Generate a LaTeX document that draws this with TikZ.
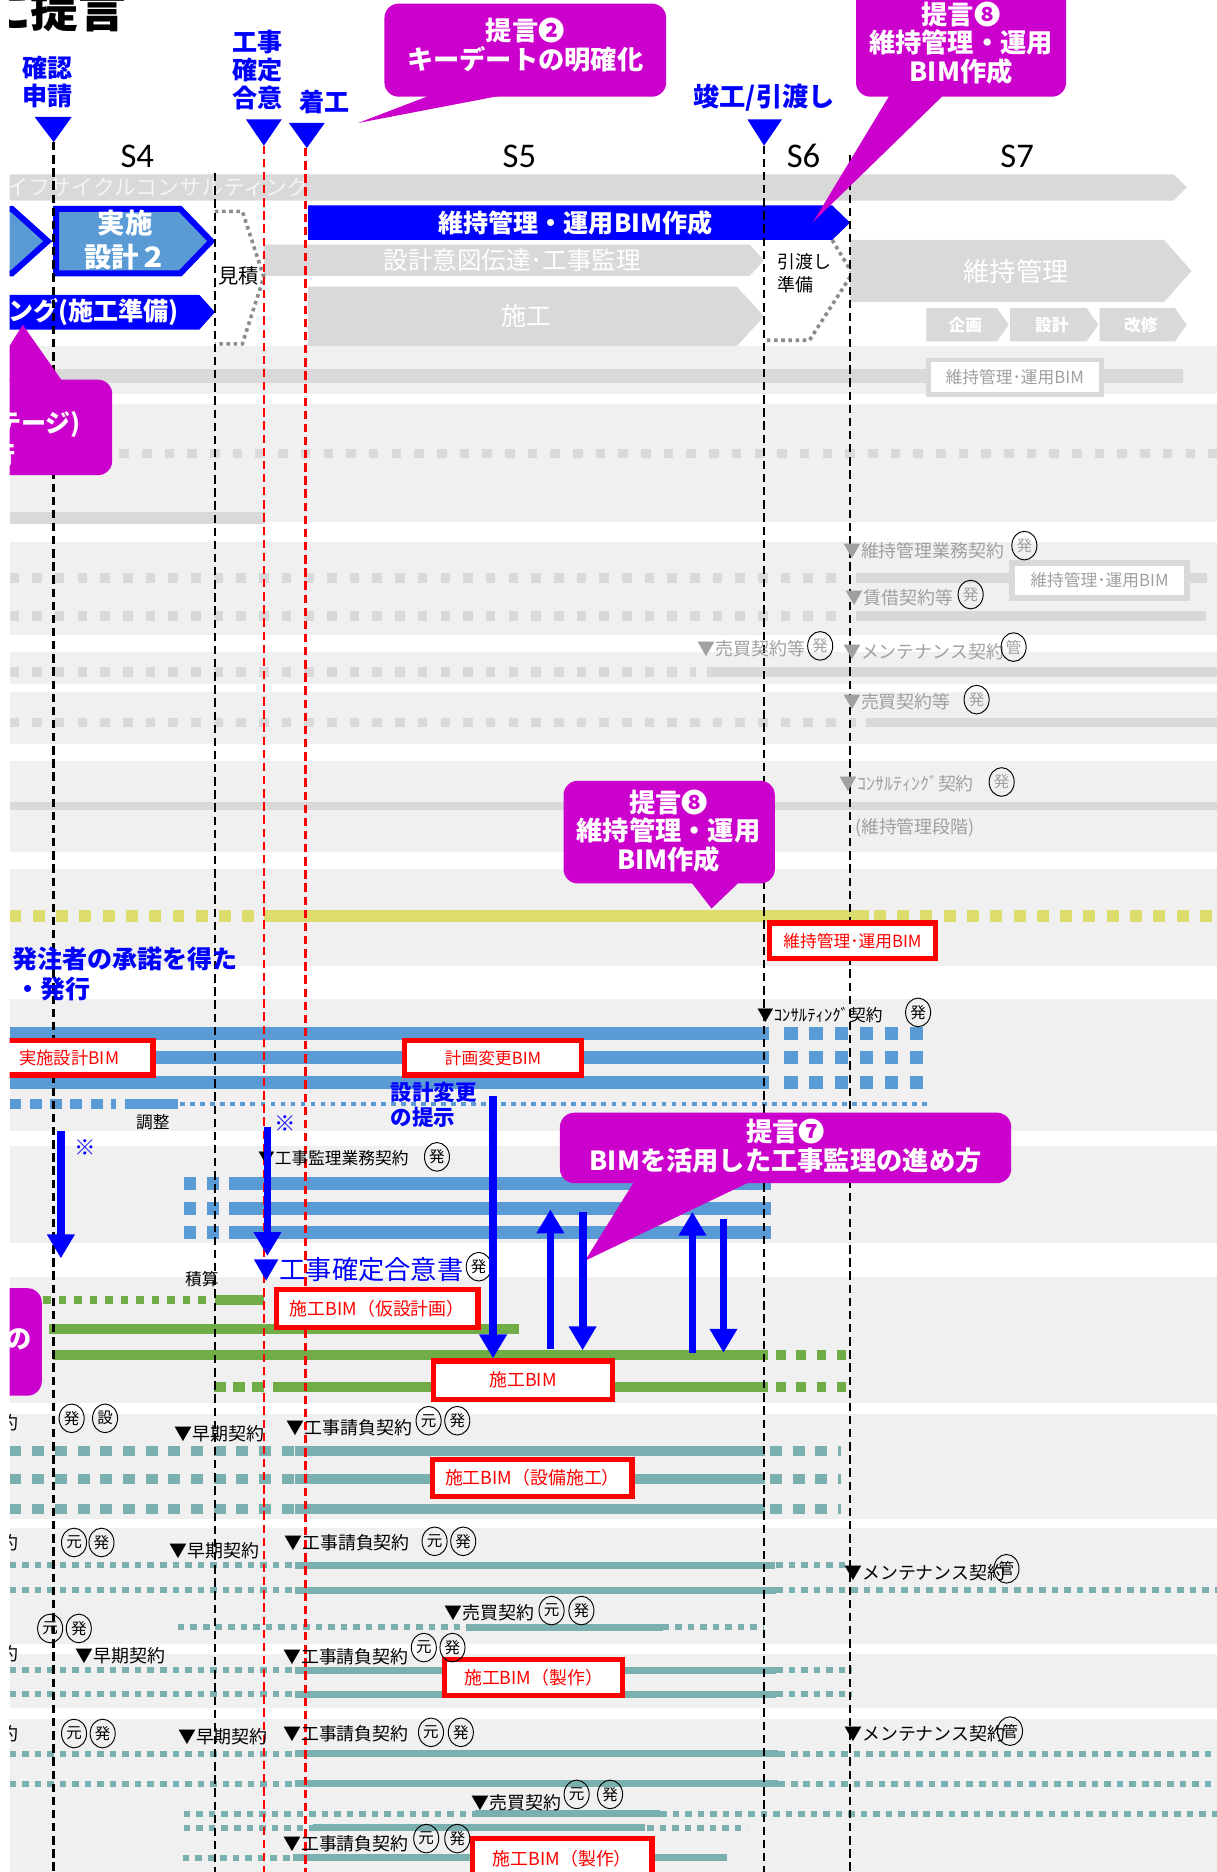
\documentclass[tikz,border=0pt]{standalone}
\usepackage{fontspec}
\setmainfont{Noto Sans CJK JP}
\newfontfamily\stagefont{Carlito}
\usetikzlibrary{positioning,arrows.meta,shapes.geometric}

\definecolor{bandgray}{RGB}{240,240,240}
\definecolor{bargray}{RGB}{217,217,217}
\definecolor{fainttext}{RGB}{160,160,160}
\definecolor{ghost}{RGB}{244,244,244}
\definecolor{steel}{RGB}{91,155,213}
\definecolor{leaf}{RGB}{112,173,71}
\definecolor{seagray}{RGB}{122,176,176}
\definecolor{olivebar}{RGB}{221,221,110}
\definecolor{callout}{RGB}{204,0,204}
\definecolor{pureblue}{RGB}{0,0,255}
\definecolor{dotgray}{RGB}{140,140,140}

\newcommand\ptsz[2]{\fontsize{#1}{#2}\selectfont}

\tikzset{
  bandrow/.style={fill=bandgray},
  barline/.style={bargray, line width=8},
  bardot/.style={bargray, line width=8, dash pattern=on 8pt off 11pt},
  ylline/.style={olivebar, line width=10},
  yldot/.style={olivebar, line width=10, dash pattern=on 10pt off 9.5pt},
  stline/.style={steel, line width=11},
  stdash/.style={steel, line width=11, dash pattern=on 11pt off 10pt},
  stdot/.style={steel, line width=3.5, dash pattern=on 4pt off 4.4pt},
  grline/.style={leaf, line width=8.5},
  grdash/.style={leaf, line width=8.5, dash pattern=on 8pt off 9pt},
  grdot/.style={leaf, line width=6.5, dash pattern=on 6.5pt off 6.5pt},
  tline/.style={seagray, line width=8.5},
  tdash/.style={seagray, line width=8.5, dash pattern=on 10pt off 9pt},
  tthin/.style={seagray, line width=6},
  tdot/.style={seagray, line width=5, dash pattern=on 5.5pt off 5pt},
  vdash/.style={line width=2.2, dash pattern=on 7pt off 4pt},
  dotline/.style={dotgray, line width=3, dash pattern=on 3pt off 3pt},
  redbox/.style={draw=red, line width=4.5, fill=white, text=red, font=\ptsz{14}{14}, minimum height=29, inner sep=0pt},
  greybox/.style={draw=bargray, line width=4, fill=white, text=fainttext, font=\ptsz{14}{14}, minimum height=29, inner sep=0pt},
  circ/.style={draw, line width=0.8, ellipse, inner sep=0pt, minimum width=21, minimum height=24, font=\ptsz{13}{13}},
  fcirc/.style={circ, text=fainttext},
  faint/.style={anchor=west, inner sep=0pt, text=fainttext, font=\ptsz{15}{15}},
  lbl/.style={anchor=west, inner sep=0pt, font=\ptsz{15}{15}},
  bubble/.style={fill=callout, rounded corners=12},
  bubbletext/.style={text=white, font=\bfseries\ptsz{22}{24}, align=center},
  bartext/.style={text=white, font=\ptsz{20.5}{20.5}, inner sep=0pt},
  milestone/.style={text=pureblue, font=\bfseries\ptsz{21}{23.5}, align=center},
  stage/.style={font=\stagefont\ptsz{29}{29}},
  bluearrow/.style={pureblue, line width=6.5, -{Triangle[length=20pt,width=22pt]}}
}

\begin{document}
\begin{tikzpicture}[x=1pt,y=-1pt]
  \useasboundingbox (0,0) rectangle (1019,1568);
  \fill[white] (0,0) rectangle (1019,1568);
  \begin{scope}
  \clip (8,-20) rectangle (1030,1590);
  % row bands
  \foreach \ya/\yb in {290/330,338/437,454/532,546/573,580/623,637/714,728/809,837/947,960/1041,1070/1175,1184/1272,1280/1377,1385/1431,1440/1590}
    \fill[bandrow] (8,\ya) rectangle (1030,\yb);

  \node[anchor=base east, inner sep=0pt, font=\bfseries\ptsz{40}{40}] (title) at (106,23) {に提言};

  % stages and milestones
  \node[stage] (s4) at (115,131) {S4};
  \node[stage] (s5) at (435,131) {S5};
  \node[stage] (s6) at (673,131) {S6};
  \node[stage] (s7) at (852,131) {S7};
  \node[milestone] (kakunin) at (40,69) {確認\\申請};
  \node[milestone] (kakutei) at (216,58.5) {工事\\確定\\合意};
  \node[milestone] (chakko) at (272,85) {着工};
  \node[milestone, font=\bfseries\ptsz{22}{22}] (shunko) at (640,82) {竣工/引渡し};
  \fill[pureblue] (29,98) -- (60,98) -- (45,119) -- cycle;
  \fill[pureblue] (206,100) -- (236,100) -- (221,122) -- cycle;
  \fill[pureblue] (242,103) -- (272,103) -- (257,124) -- cycle;
  \fill[pureblue] (626,100) -- (655,100) -- (640,122) -- cycle;
  \coordinate (kakuninTip) at (45,119);
  \coordinate (kakuteiTip) at (221,122);
  \coordinate (chakkoTip) at (256,124);
  \coordinate (shunkoTip) at (640,122);
  \coordinate (s4end) at (180,145);
  \coordinate (s6end) at (712,130);
  \coordinate (bottom) at (0,1580);

  % top bars
  \fill[bargray] (8,146) -- (983,146) -- (994,157) -- (983,168) -- (8,168) -- cycle;
  \node[anchor=west, inner sep=0pt, text=ghost, font=\ptsz{18.3}{18.3}] (lifecycle) at (5,157) {イフサイクルコンサルティング};
  \filldraw[fill=steel, draw=pureblue, line width=5] (-20,175) -- (10,175) -- (40,202) -- (10,229) -- (-20,229) -- cycle;
  \filldraw[fill=steel, draw=pureblue, line width=5] (47,175) -- (151,175) -- (177,202) -- (151,229) -- (47,229) -- cycle;
  \node[text=white, font=\bfseries\ptsz{23}{28}, align=center] (jisshi) at (105,201) {実施\\設計２};
  \fill[pureblue] (258,172) -- (697,172) -- (712,186.5) -- (697,201) -- (258,201) -- cycle;
  \node[bartext, font=\bfseries\ptsz{21}{21}] (opbar) at (482,186.5) {維持管理・運用BIM作成};
  \fill[bargray] (221,205) -- (628,205) -- (640,218) -- (628,231) -- (221,231) -- cycle;
  \node[bartext] (intent) at (429,218) {設計意図伝達･工事監理};
  \fill[bargray] (258,240) -- (617,240) -- (640,265) -- (617,290) -- (258,290) -- cycle;
  \node[bartext, font=\ptsz{21}{21}] (construct) at (441,265) {施工};
  \fill[pureblue] (0,247) -- (167,247) -- (180,261.5) -- (167,276) -- (0,276) -- cycle;
  \node[bartext, anchor=east, font=\bfseries\ptsz{21}{21}] (prep) at (150,261.5) {ング(施工準備)};
  \draw[dotline] (180,177) -- (203,177) -- (221,232) -- (203,288) -- (180,288);
  \node[font=\ptsz{17}{17}, inner sep=0pt] (estimate) at (200,231) {見積};
  \draw[dotline] (697,201) -- (714,229) -- (678,285) -- (641,285);
  \node[anchor=north west, align=left, inner sep=0pt, font=\ptsz{15}{19}] (handover) at (651,212) {引渡し\\準備};
  \fill[bargray] (712,201) -- (975,201) -- (998,227) -- (975,253) -- (712,253) -- cycle;
  \node[bartext, font=\ptsz{22}{22}] (maint) at (851,227) {維持管理};
  \foreach \xa/\xb/\txt/\nm in {776/835/企画/plan, 846/910/設計/design, 921/984/改修/repair} {
    \fill[bargray] (\xa,258) -- (\xb,258) -- (\xb+10,272) -- (\xb,286) -- (\xa,286) -- cycle;
    \node[bartext, font=\bfseries\ptsz{14}{14}] (\nm) at ({(\xa+\xb)/2+3},272) {\txt};
  }

  % grey rows
  \draw[barline, line width=12] (8,315) -- (991,315);
  \draw[bardot] (100,380) -- (1030,380);
  \draw[barline, line width=10] (8,434) -- (222,434);
  \draw[bardot] (8,484) -- (708,484); \draw[barline] (717,484) -- (1011,484);
  \draw[bardot] (8,516) -- (705,516); \draw[barline] (717,516) -- (1010,516);
  \draw[bardot] (8,563) -- (583,563); \draw[barline] (592,563) -- (1030,563);
  \draw[bardot] (8,605) -- (717,605); \draw[barline] (725,605) -- (1030,605);
  \draw[barline, line width=7] (8,675) -- (1030,675);
  \draw[yldot] (8,767) -- (220,767); \draw[ylline] (221,767) -- (728,767); \draw[yldot] (732,767) -- (1030,767);

  % design rows
  \foreach \y in {866,886,907} {\draw[stline] (8,\y) -- (644,\y); \draw[stdash] (657,\y) -- (775,\y);}
  \draw[steel, line width=8.4, dash pattern=on 10pt off 7pt] (8,925) -- (97,925);
  \draw[steel, line width=8.4] (105,925) -- (149,925);
  \draw[stdot] (151,925) -- (781,925);
  \foreach \y in {991,1012,1032} {\draw[stdash, dash pattern=on 10pt off 9.5pt] (154,\y) -- (184,\y); \draw[stline] (192,\y) -- (646,\y);}

  % construction rows
  \draw[grdot] (36,1089) -- (179,1089); \draw[grline] (180,1089) -- (221,1089);
  \draw[grline] (41,1113) -- (435,1113);
  \draw[grline] (44,1135) -- (643,1135); \draw[grdash] (650,1135) -- (712,1135);
  \draw[grdash, dash pattern=on 10pt off 6pt] (179,1162) -- (221,1162); \draw[grline] (229,1162) -- (643,1162); \draw[grdash] (650,1162) -- (712,1162);

  % sub-contractor rows
  \foreach \y in {1215,1239,1264} {\draw[tdash] (8,\y) -- (247,\y); \draw[tline] (247,\y) -- (641,\y); \draw[tdash] (645,\y) -- (704,\y);}
  \draw[tdot] (8,1311) -- (247,1311); \draw[tthin] (247,1311) -- (649,1311); \draw[tdot] (650,1311) -- (712,1311);
  \draw[tdot] (8,1332) -- (247,1332); \draw[tthin] (247,1332) -- (650,1332); \draw[tdot] (650,1332) -- (1030,1332);
  \draw[tdot] (149,1363) -- (390,1363); \draw[tthin] (390,1363) -- (555,1363); \draw[tdot] (555,1363) -- (640,1363);
  \foreach \y in {1399,1419} {\draw[tdot] (8,\y) -- (247,\y); \draw[tthin] (247,\y) -- (650,\y); \draw[tdot] (650,\y) -- (714,\y);}
  \foreach \y in {1469,1494} {\draw[tdot] (8,\y) -- (247,\y); \draw[tthin] (247,\y) -- (652,\y); \draw[tdot] (652,\y) -- (1030,\y);}
  \draw[tdot] (154,1519) -- (398,1519); \draw[tthin] (398,1519) -- (553,1519); \draw[tdot] (553,1519) -- (1030,1519);
  \draw[tdot] (154,1531) -- (262,1531); \draw[tthin] (262,1531) -- (540,1531); \draw[tdot] (542,1531) -- (626,1531);
  \draw[tdot] (153,1556) -- (243,1556); \draw[tthin] (245,1556) -- (609,1556);

  % stage boundaries
  \draw[vdash] (kakuninTip) -- (kakuninTip |- bottom);
  \draw[vdash] (s4end) -- (s4end |- bottom);
  \draw[vdash, red] (kakuteiTip) -- (kakuteiTip |- bottom);
  \draw[vdash, red] (chakkoTip) -- (chakkoTip |- bottom);
  \draw[vdash] (shunkoTip) -- (shunkoTip |- bottom);
  \draw[vdash] (s6end) -- (s6end |- bottom);

  % boxes
  \node[greybox, minimum width=145] (opbim0) at (850,316) {維持管理･運用BIM};
  \node[greybox, minimum width=146, line width=5] (opbim1) at (921,486) {維持管理･運用BIM};
  \node[redbox, minimum width=139, minimum height=30] (opBIM) at (714,788) {維持管理･運用BIM};
  \node[redbox, minimum width=140, font=\ptsz{14.5}{14.5}] (jisshiBIM) at (58,886) {実施設計BIM};
  \node[redbox, minimum width=148] (changeBIM) at (413,886) {計画変更BIM};
  \node[redbox, minimum width=169, minimum height=32, font=\ptsz{15}{15}] (tempBIM) at (316,1096) {施工BIM（仮設計画）};
  \node[redbox, minimum width=150, minimum height=32, font=\ptsz{15}{15}] (sekouBIM) at (438,1156) {施工BIM};
  \node[redbox, minimum width=167, minimum height=31, font=\ptsz{15}{15}] (mepBIM) at (446,1238) {施工BIM（設備施工）};
  \node[redbox, minimum width=149, minimum height=30, font=\ptsz{15}{15}] (fabBIM1) at (447,1405) {施工BIM（製作）};
  \node[redbox, minimum width=150, minimum height=34, font=\ptsz{15}{15}] (fabBIM2) at (471,1557) {施工BIM（製作）};

  % maintenance contracts
  \node[faint] (fm1) at (706,461) {▼維持管理業務契約};
  \node[fcirc] (fc1) at (858,457) {発};
  \node[faint] (fm2) at (708,501) {▼賃借契約等};
  \node[fcirc] (fc2) at (813,498) {発};
  \node[faint] (fm3) at (584,543) {▼売買契約等};
  \node[fcirc] (fc3) at (687,541) {発};
  \node[faint] (fm4) at (706,546) {▼メンテナンス契約};
  \node[fcirc] (fc4) at (849,542) {管};
  \node[faint] (fm5) at (706,588) {▼売買契約等};
  \node[fcirc] (fc5) at (818,586) {発};
  \node[faint] (fm6) at (703,656) {▼ｺﾝｻﾙﾃｨﾝｸﾞ契約};
  \node[fcirc] (fc6) at (839,655) {発};
  \node[faint] (fm7) at (716,693) {(維持管理段階)};

  % design and supervision labels
  \node[anchor=west, inner sep=0pt, text=pureblue, font=\bfseries\ptsz{21}{21}] (shodaku) at (10,803) {発注者の承諾を得た};
  \node[anchor=west, inner sep=0pt, text=pureblue, font=\bfseries\ptsz{21}{21}] (hakko) at (13,828) {・発行};
  \node[lbl, font=\ptsz{14}{14}] (consult) at (634,850) {▼ｺﾝｻﾙﾃｨﾝｸﾞ契約};
  \node[circ] (cc1) at (769,848) {発};
  \node[font=\ptsz{14}{14}, inner sep=0pt] (chosei) at (128,940) {調整};
  \node[anchor=north west, align=left, inner sep=0pt, text=pureblue, font=\bfseries\ptsz{18}{21}] (henko) at (327,906) {設計変更\\の提示};
  \node[text=pureblue, font=\ptsz{18}{18}, inner sep=0pt] (kome1) at (71,961) {※};
  \node[text=pureblue, font=\ptsz{18}{18}, inner sep=0pt] (kome2) at (239,941) {※};
  \node[lbl, font=\ptsz{14}{14}] (kanri) at (216,970) {▼工事監理業務契約};
  \node[circ] (cc2) at (366,969) {発};
  \node[anchor=west, inner sep=0pt, text=pureblue, font=\ptsz{22}{22}] (goui) at (212,1063) {▼工事確定合意書};
  \node[circ] (cc3) at (401,1061) {発};
  \node[font=\ptsz{14}{14}, inner sep=0pt] (sekisan) at (169,1071) {積算};

  % contract labels, lower rows
  \node[lbl, anchor=east] (yaku1) at (16,1192) {約};
  \node[circ] (r1a) at (60,1188) {発};
  \node[circ] (r1b) at (88,1188) {設};
  \node[lbl] (early1) at (146,1201) {▼早期契約};
  \node[lbl] (ukeoi1) at (240,1196) {▼工事請負契約};
  \node[circ] (r1c) at (359,1190) {元};
  \node[circ] (r1d) at (383,1190) {発};

  \node[lbl, anchor=east] (yaku2) at (16,1292) {約};
  \node[circ] (r2a) at (62,1292) {元};
  \node[circ] (r2b) at (85,1292) {発};
  \node[lbl] (early2) at (142,1299) {▼早期契約};
  \node[lbl] (ukeoi2) at (238,1292) {▼工事請負契約};
  \node[circ] (r2c) at (364,1291) {元};
  \node[circ] (r2d) at (388,1291) {発};
  \node[lbl] (mente1) at (707,1317) {▼メンテナンス契約};
  \node[circ] (r2e) at (843,1314) {管};
  \node[lbl] (baibai1) at (372,1351) {▼売買契約};
  \node[circ] (r2f) at (462,1349) {元};
  \node[circ] (r2g) at (487,1349) {発};
  \node[circ] (r2h) at (42,1364) {元};
  \node[circ] (r2i) at (66,1364) {発};

  \node[lbl, anchor=east] (yaku3) at (16,1385) {約};
  \node[lbl] (early3) at (63,1387) {▼早期契約};
  \node[lbl] (ukeoi3) at (237,1388) {▼工事請負契約};
  \node[circ] (r3a) at (355,1380) {元};
  \node[circ] (r3b) at (379,1380) {発};

  \node[lbl, anchor=east] (yaku4) at (16,1452) {約};
  \node[circ] (r4a) at (62,1452) {元};
  \node[circ] (r4b) at (86,1452) {発};
  \node[lbl] (early4) at (149,1455) {▼早期契約};
  \node[lbl] (ukeoi4) at (237,1452) {▼工事請負契約};
  \node[circ] (r4c) at (361,1451) {元};
  \node[circ] (r4d) at (386,1451) {発};
  \node[lbl] (mente2) at (707,1452) {▼メンテナンス契約};
  \node[circ] (r4e) at (846,1450) {管};
  \node[lbl] (baibai2) at (395,1510) {▼売買契約};
  \node[circ] (r4f) at (483,1503) {元};
  \node[circ] (r4g) at (511,1503) {発};
  \node[lbl] (ukeoi5) at (237,1544) {▼工事請負契約};
  \node[circ] (r4h) at (357,1540) {元};
  \node[circ] (r4i) at (383,1540) {発};

  % callouts
  \fill[bubble] (322,3) rectangle (558,81);
  \fill[callout] (360,80) -- (420,80) -- (300,103) -- cycle;
  \node[bubbletext] (teigen2) at (440,38) {提言❷\\キーデートの明確化};
  \fill[bubble] (717,-15) rectangle (893,81);
  \fill[callout] (745,80) -- (790,80) -- (681,186) -- cycle;
  \node[bubbletext] (teigen8a) at (805,36) {提言❽\\維持管理・運用\\BIM作成};
  \fill[bubble] (472,654) rectangle (649,740);
  \fill[callout] (579,739) -- (619,739) -- (596,761) -- cycle;
  \node[bubbletext] (teigen8b) at (560,696) {提言❽\\維持管理・運用\\BIM作成};
  \fill[bubble] (469,932) rectangle (847,991);
  \fill[callout] (531,990) -- (628,990) -- (490,1056) -- cycle;
  \node[bubbletext] (teigen7) at (658,960) {提言❼\\BIMを活用した工事監理の進め方};
  \fill[bubble] (-20,318) rectangle (94,398);
  \fill[callout] (19,272) -- (52,319) -- (-10,319) -- cycle;
  \node[anchor=east, inner sep=0pt, text=white, font=\bfseries\ptsz{21}{21}] (stagetxt) at (68,356) {テージ)};
  \node[anchor=east, inner sep=0pt, text=white, font=\bfseries\ptsz{21}{21}] (stagetxt2) at (13,381) {行};
  \fill[bubble] (-20,1079) rectangle (35,1169);
  \node[inner sep=0pt, text=white, font=\bfseries\ptsz{22}{22}] (notxt) at (16,1122) {の};

  % arrows
  \coordinate (henkoTop) at (413,918);
  \coordinate (kome1a) at (51,947);
  \coordinate (kome1b) at (51,1054);
  \coordinate (kome2a) at (224,944);
  \coordinate (kome2b) at (224,1052);
  \coordinate (up1a) at (461,1130);
  \coordinate (up1b) at (461,1013);
  \coordinate (dn1a) at (488,1015);
  \coordinate (dn1b) at (488,1131);
  \coordinate (up2a) at (580,1133);
  \coordinate (up2b) at (580,1015);
  \coordinate (dn2a) at (606,1021);
  \coordinate (dn2b) at (606,1133);
  \draw[bluearrow] (henkoTop) -- (henkoTop |- sekouBIM.north);
  \draw[bluearrow] (kome1a) -- (kome1b);
  \draw[bluearrow] (kome2a) -- (kome2b);
  \draw[bluearrow] (up1a) -- (up1b);
  \draw[bluearrow] (dn1a) -- (dn1b);
  \draw[bluearrow] (up2a) -- (up2b);
  \draw[bluearrow] (dn2a) -- (dn2b);
  \end{scope}
\end{tikzpicture}
\end{document}
